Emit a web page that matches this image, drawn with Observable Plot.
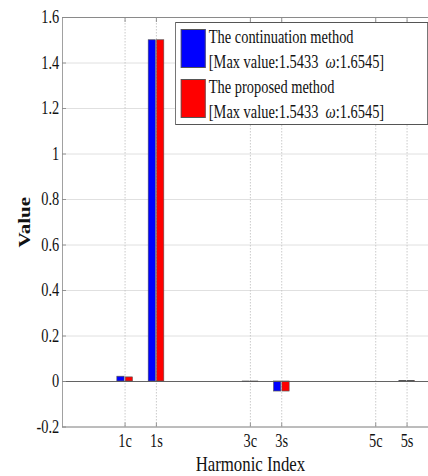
<!DOCTYPE html>
<html>
<head>
<meta charset="utf-8">
<script src="https://cdn.jsdelivr.net/npm/d3@7"></script>
<script src="https://cdn.jsdelivr.net/npm/@observablehq/plot@0.6"></script>
<style>
  html, body { margin: 0; padding: 0; background: #fff; overflow: hidden; }
  /* the whole figure is drawn with condensed proportions */
  #chart { position: relative; width: 560px; height: 476px; transform: scaleX(0.8); transform-origin: 0 0;
           font-family: "Liberation Serif", "Times New Roman", serif; color: #111; }
  #chart svg { display: block; overflow: visible; }
  #chart g[aria-label="x-axis label"] text, #chart g[aria-label="y-axis label"] text { font-size: 21px; }
  #chart g[aria-label="y-axis label"] text { font-weight: bold; }
  .legend { position: absolute; left: 219px; top: 22px; width: 316px; height: 103px; background: #fff;
            border: 1px solid #555; box-sizing: border-box; font-size: 18px; line-height: 25px; }
  .legend .item { position: absolute; left: 6px; height: 50px; }
  .legend .swatch { position: absolute; left: 0; top: 0; width: 31px; height: 39px; box-sizing: border-box; border: 1px solid #555; }
  .legend .txt { position: absolute; left: 35px; top: -4px; white-space: nowrap; }
</style>
</head>
<body>
<div id="chart"></div>
<script>
// Harmonic coefficients: cosine (c) and sine (s) terms of each order
const harmonics = ["0", "1c", "1s", "2c", "2s", "3c", "3s", "4c", "4s", "5c", "5s"];
const continuation = [0, 0.021, 1.5, 0, 0, -0.002, -0.044, 0, 0, 0, 0.002];
const proposed     = [0, 0.018, 1.5, 0, 0, -0.002, -0.044, 0, 0, 0, 0.002];
const tickLabels = ["1c", "1s", "3c", "3s", "5c", "5s"];
const yTicks = [-0.2, 0, 0.2, 0.4, 0.6, 0.8, 1, 1.2, 1.4, 1.6];
const methods = ["The continuation method", "The proposed method"];
const colors = ["#0000ff", "#ff0000"];
const maxValue = ["1.5433", "1.5433"];
const omega = ["1.6545", "1.6545"];

const rows = harmonics.flatMap((h, i) => [
  {harmonic: h, pos: i + 1, method: methods[0], value: continuation[i]},
  {harmonic: h, pos: i + 1, method: methods[1], value: proposed[i]}
]);
const tickPos = tickLabels.map(t => harmonics.indexOf(t) + 1);
const half = 0.25; // each bar spans a quarter of an index step

const fmt = d => String(d);

const chart = Plot.plot({
  width: 560,
  height: 476,
  marginLeft: 77.5,
  marginRight: 12.5,
  marginTop: 17,
  marginBottom: 49.5,
  style: {fontFamily: "Liberation Serif, Times New Roman, serif", fontSize: "18px", color: "#111", background: "#fff"},
  x: {domain: [0, harmonics.length + 1]},
  y: {domain: [-0.2, 1.6]},
  marks: [
    Plot.gridY(yTicks, {stroke: "#dcdcdc", strokeOpacity: 1}),
    Plot.gridX(tickPos, {stroke: "#c4c4c4", strokeOpacity: 1, strokeDasharray: "1.5,1.5"}),
    Plot.rectY(rows.filter(d => d.method === methods[0]), {
      x1: d => d.pos - half, x2: d => d.pos, y1: 0, y2: "value",
      fill: colors[0], stroke: "#555", strokeWidth: 0.7, insetRight: 0.7
    }),
    Plot.rectY(rows.filter(d => d.method === methods[1]), {
      x1: d => d.pos, x2: d => d.pos + half, y1: 0, y2: "value",
      fill: colors[1], stroke: "#555", strokeWidth: 0.7, insetLeft: 0.7
    }),
    Plot.ruleY([0], {stroke: "#555", strokeWidth: 1}),
    Plot.frame({stroke: "#8a8a8a"}),
    Plot.axisY(yTicks, {tickFormat: fmt, tickSize: -5, tickPadding: 9, stroke: "#8a8a8a",
      label: "Value", labelAnchor: "center", labelArrow: "none", labelOffset: 56}),
    Plot.axisX(tickPos, {tickFormat: p => harmonics[p - 1], tickSize: -4, tickPadding: 11, stroke: "#8a8a8a",
      label: "Harmonic Index", labelAnchor: "center", labelArrow: "none", labelOffset: 44}),
    Plot.axisX(tickPos, {anchor: "top", tickSize: -4, fill: "none", stroke: "#8a8a8a", label: null})
  ]
});

const root = document.getElementById("chart");
root.appendChild(chart);

// legend box in the upper right of the axes
const legend = document.createElement("div");
legend.className = "legend";
methods.forEach((m, i) => {
  const item = document.createElement("div");
  item.className = "item";
  item.style.top = (6 + i * 50) + "px";
  item.innerHTML = `<span class="swatch" style="background:${colors[i]}"></span>` +
    `<div class="txt">${m}<br>[Max value:${maxValue[i]}&nbsp;&nbsp;<i>ω</i>:${omega[i]}]</div>`;
  legend.appendChild(item);
});
root.appendChild(legend);
</script>
</body>
</html>
